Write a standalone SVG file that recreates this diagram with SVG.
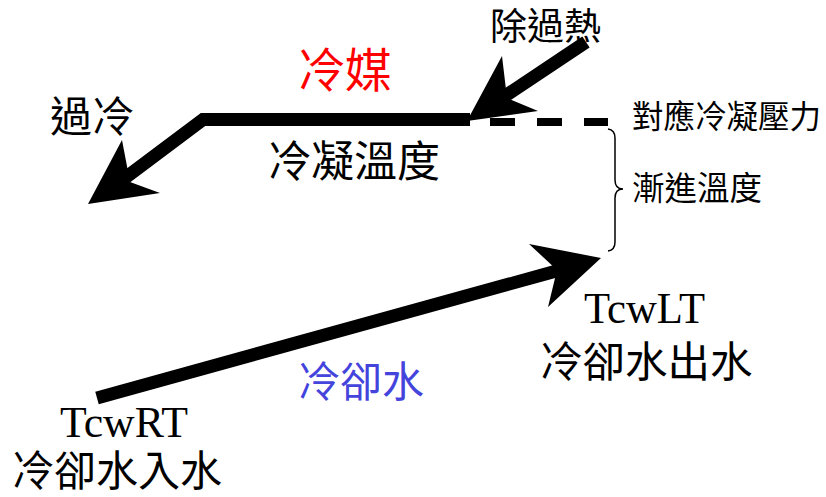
<svg xmlns="http://www.w3.org/2000/svg" width="826" height="497" viewBox="0 0 826 497">
<style>
.cjk{font-family:"Noto Sans CJK TC","Noto Sans CJK SC",sans-serif;fill:#000}
.lat{font-family:"Liberation Serif","Times New Roman",serif;fill:#000}
.shaft{stroke:#000;fill:none;stroke-width:13}
.head{fill:#000;stroke:none}
</style>
<rect width="826" height="497" fill="#fff"/>
<g id="connectors">
  <line class="shaft" x1="586" y1="42" x2="505" y2="96"/>
  <polygon class="head" points="467,121 502,56 507,98 538,111"/>
  <polyline class="shaft" points="470,119.5 203,119.5 125,178" stroke-linejoin="miter"/>
  <polygon class="head" points="88,204 122,140 130,182 160,193"/>
  <line x1="490" y1="122" x2="608" y2="122" stroke="#000" stroke-width="8" stroke-dasharray="25 22"/>
  <line class="shaft" x1="97" y1="398" x2="560" y2="270"/>
  <polygon class="head" points="601,258 529,244 557,270 548,307"/>
  <path d="M608,129 Q615,130 615,138 L615,180 Q615,189 623,189 Q615,189 615,198 L615,242 Q615,250 608,251" fill="none" stroke="#000" stroke-width="1.5"/>
</g>
<g id="superheat"><text class="cjk" x="490" y="40" font-size="37">除過熱</text></g>
<g id="refrigerant"><text class="cjk" x="298" y="87" font-size="47" style="fill:#ff0000">冷媒</text></g>
<g id="subcool"><text class="cjk" x="50" y="132" font-size="42">過冷</text></g>
<g id="cond-temp"><text class="cjk" x="268" y="177" font-size="43">冷凝溫度</text></g>
<g id="cond-pressure"><text class="cjk" x="632" y="128" font-size="31.5">對應冷凝壓力</text></g>
<g id="approach"><text class="cjk" x="632" y="200" font-size="32.5">漸進溫度</text></g>
<g id="tcwlt">
  <text class="lat" x="584" y="323" font-size="44" textLength="121" lengthAdjust="spacingAndGlyphs">TcwLT</text>
  <text class="cjk" x="540" y="377" font-size="42.5">冷卻水出水</text>
</g>
<g id="coolwater"><text class="cjk" x="298" y="397" font-size="42" style="fill:#4444dd">冷卻水</text></g>
<g id="tcwrt">
  <text class="lat" x="60" y="437" font-size="44" textLength="128" lengthAdjust="spacingAndGlyphs">TcwRT</text>
  <text class="cjk" x="12" y="486" font-size="42">冷卻水入水</text>
</g>
</svg>
